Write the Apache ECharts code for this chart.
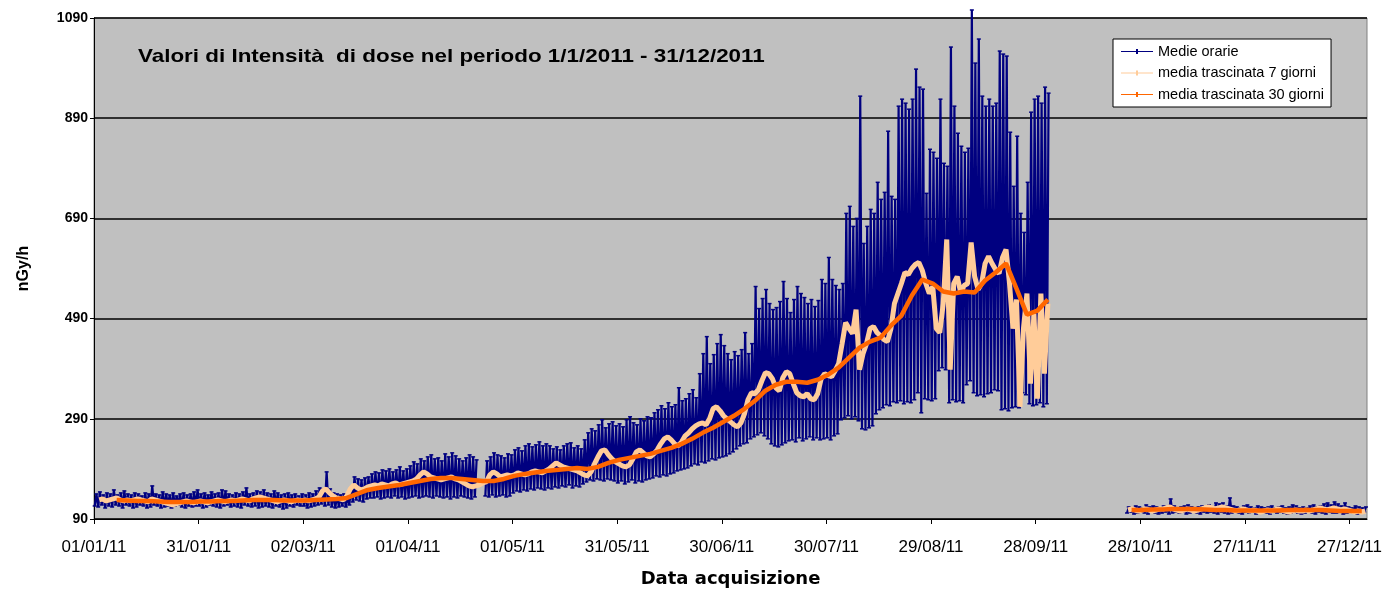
<!DOCTYPE html>
<html>
<head>
<meta charset="utf-8">
<script src="https://cdn.jsdelivr.net/npm/echarts@6/dist/echarts.min.js"></script>
<style>
  html, body { margin: 0; padding: 0; background: #ffffff; }
  #chart { width: 1397px; height: 594px; }
</style>
</head>
<body>
<div id="chart"></div>
<script>
// Dose-rate series for 2011, indexed by day of year (0 = 1 Jan 2011).
const startDateUTC = Date.UTC(2011, 0, 1);
const xTickStepDays = 30;
const yTickValues = [90, 290, 490, 690, 890, 1090];
const seriesNames = ['Medie orarie', 'media trascinata 7 giorni', 'media trascinata 30 giorni'];
const chartTitle = 'Valori di Intensità  di dose nel periodo 1/1/2011 - 31/12/2011';
const xAxisTitle = 'Data acquisizione';
const yAxisTitle = 'nGy/h';

// Hourly averages: daily maximum and minimum of the hourly values (nGy/h), null = no data.
const hourlyHigh = [
  140,144,138,142,140,148,138,142,146,140,
  138,142,140,136,142,140,156,140,138,144,
  140,138,142,136,140,142,138,140,144,148,
  140,142,138,144,140,142,148,146,140,138,
  142,140,144,152,140,142,146,144,148,142,
  140,146,142,138,140,142,138,140,136,140,
  138,142,140,146,152,150,184,150,142,140,
  138,140,136,152,174,170,168,172,174,180,
  184,182,188,186,190,184,188,194,186,190,
  196,204,200,210,206,214,218,210,212,206,
  220,214,222,216,210,206,212,218,214,208,
  null,null,206,214,222,218,216,212,220,218,
  228,232,226,236,240,234,238,244,236,240,
  236,230,234,228,236,240,242,232,236,230,
  248,262,270,266,278,288,272,280,284,276,
  280,274,288,294,282,278,290,286,294,292,
  302,308,316,310,322,314,318,352,326,330,
  340,348,332,380,420,454,400,418,440,458,
  436,420,408,424,416,428,462,420,440,554,
  510,530,548,520,508,512,524,564,530,502,
  528,554,540,532,520,528,514,526,568,560,
  612,568,556,548,560,700,714,674,690,934,
  640,674,708,700,762,728,742,864,734,728,
  914,928,920,908,928,988,952,948,740,828,
  822,810,928,800,794,1032,914,860,834,822,
  830,1106,1000,1048,934,914,928,914,920,1024,
  1018,1014,862,754,854,700,662,762,902,928,
  934,920,952,940,
  null,null,null,null,null,null,null,null,null,null,null,
  null,null,null,null,null,null,null,null,null,null,null,
  114,112,116,114,112,118,114,116,114,112,
  116,114,130,116,112,114,116,118,114,112,
  114,116,112,118,114,122,120,122,116,132,
  116,114,112,116,118,114,112,116,114,112,
  114,116,112,114,116,112,114,118,116,112,
  114,112,116,118,114,116,120,122,118,124,
  120,116,122,114,112,116,114,112,114
];
const hourlyLow = [
  116,114,118,112,116,114,118,116,112,118,
  116,112,114,118,116,112,114,118,116,112,
  114,116,112,116,118,114,112,116,114,116,
  116,112,114,118,116,114,112,116,118,114,
  116,114,112,118,116,114,116,112,114,116,
  114,112,116,114,110,112,116,114,118,116,
  116,112,114,116,118,120,116,118,114,112,
  114,116,114,118,124,128,126,124,130,132,
  132,134,130,132,134,132,136,132,134,130,
  132,134,136,132,134,136,134,132,136,134,
  132,134,130,134,132,136,134,132,130,134,
  null,null,136,134,138,134,136,138,134,136,
  142,146,144,148,146,150,148,152,150,148,
  152,150,154,152,156,154,158,152,156,154,
  160,164,168,166,170,168,166,170,168,166,
  162,166,160,164,168,162,166,164,168,170,
  172,176,174,178,176,180,182,186,188,190,
  192,196,200,198,204,202,206,210,208,212,
  214,216,220,224,230,236,240,242,250,254,
  258,262,256,250,240,236,234,238,242,246,
  248,244,252,246,250,254,248,252,248,250,
  252,248,256,260,288,292,296,290,294,286,
  270,268,272,276,300,308,312,318,316,324,
  322,326,320,324,322,328,342,302,330,328,
  326,330,386,392,388,322,328,324,326,322,
  358,366,342,336,338,334,340,342,348,346,
  308,310,306,312,314,312,342,338,320,316,
  318,322,314,320,
  null,null,null,null,null,null,null,null,null,null,null,
  null,null,null,null,null,null,null,null,null,null,null,
  102,104,100,102,104,102,100,104,102,100,
  102,104,100,102,104,102,104,100,102,104,
  102,100,104,102,104,102,100,104,102,100,
  102,104,102,100,104,102,104,100,102,104,
  102,100,104,102,104,102,100,102,104,102,
  100,102,104,102,100,104,102,100,104,102,
  102,104,100,102,104,102,100,102,104
];

// 7-day moving average, one value per day.
const movingAvg7 = [
  null,128,130,126,128,130,132,128,126,128,
  126,128,130,128,126,124,130,128,126,124,
  122,120,118,120,122,124,126,124,122,124,
  126,124,122,124,126,128,126,124,126,128,
  126,128,130,128,126,130,132,134,132,130,
  128,126,124,126,128,126,124,126,128,126,
  128,126,128,130,134,146,150,142,136,132,
  130,128,136,150,158,152,148,150,154,156,
  158,156,160,158,156,160,162,158,160,162,
  164,166,170,178,184,180,174,172,170,168,
  170,172,174,170,168,164,160,156,154,156,
  158,162,164,178,184,180,174,176,178,176,
  178,182,180,178,180,184,186,184,182,186,
  190,196,202,198,194,192,190,188,186,182,
  178,176,184,200,214,226,228,218,210,204,
  200,196,194,198,210,224,228,222,216,214,
  220,228,240,250,254,248,240,236,244,256,
  262,270,276,280,282,278,290,310,314,306,
  296,290,284,278,274,282,300,328,342,340,
  348,366,382,380,370,352,346,372,384,380,
  360,342,336,334,340,330,328,340,370,380,
  376,374,386,400,440,482,470,460,508,388,
  420,440,470,474,462,456,448,444,470,520,
  540,560,582,578,590,598,602,586,560,540,
  554,470,462,520,648,388,560,574,542,556,
  560,642,574,548,560,600,614,600,588,580,
  612,628,560,470,528,314,470,540,360,500,
  330,540,380,520,
  null,null,null,null,null,null,null,null,null,null,null,
  null,null,null,null,null,null,null,null,null,null,null,
  108,110,108,106,108,110,108,106,108,110,
  110,112,114,110,108,106,108,110,108,106,
  108,110,112,114,112,110,112,114,112,110,
  108,106,108,110,108,106,108,106,104,106,
  108,106,108,110,108,106,104,106,108,106,
  106,108,106,108,110,112,110,108,110,112,
  110,108,110,108,106,104,106,104,106
];

// 30-day moving average, one value every 3 days.
const movingAvg30StepDays = 3;
const movingAvg30 = [
  null,null,
  128,127,126,126,125,124,124,124,125,125,
  126,126,127,128,128,128,127,127,127,128,
  129,130,132,140,148,152,155,158,162,166,
  170,172,172,170,168,166,166,170,176,180,
  183,186,188,190,192,190,194,202,208,212,
  216,220,226,232,240,250,262,272,284,296,
  310,326,346,358,364,364,362,368,378,392,
  412,432,444,452,476,496,536,568,560,544,
  540,544,542,566,582,600,550,498,506,528,
  null,null,null,null,null,null,null,
  108,108,109,109,110,110,110,109,108,108,
  107,107,107,107,107,108,108,108,108,107,
  106,106,106
];

const DAY_MS = 86400000;
function pad2(n) { return (n < 10 ? '0' : '') + n; }
function dayLabel(d) {
  const t = new Date(startDateUTC + d * DAY_MS);
  return pad2(t.getUTCDate()) + '/' + pad2(t.getUTCMonth() + 1) + '/' + pad2(t.getUTCFullYear() % 100);
}

// Two samples per day (low then high) give the dense hourly band.
const hourlyData = [];
for (let d = 0; d < hourlyHigh.length; d++) {
  hourlyData.push([d + 0.2, hourlyLow[d]]);
  hourlyData.push([d + 0.7, hourlyHigh[d]]);
}
const avg7Data = movingAvg7.map((v, d) => [d + 0.5, v]);
const avg30Data = movingAvg30.map((v, i) => [i * movingAvg30StepDays + 0.5, v]);

const FONT = "'Liberation Sans', Arial, sans-serif";
// Legend key: a short line with a small cross-bar marker.
const KEY_ICON = 'path://M0,3.4 L32,3.4 L32,4.6 L0,4.6 Z M15,1.5 L17,1.5 L17,6.5 L15,6.5 Z';

const chart = echarts.init(document.getElementById('chart'), null, { renderer: 'canvas' });

chart.setOption({
  animation: false,
  backgroundColor: '#ffffff',
  graphic: [
    {
      type: 'text',
      left: 138,
      top: 47,
      scaleX: 1.18,
      originX: 0,
      style: {
        text: chartTitle,
        font: "bold 19px 'Liberation Sans', Arial, sans-serif",
        fill: '#000000'
      },
      z: 10
    }
  ],
  legend: {
    data: seriesNames.map(n => ({ name: n, icon: KEY_ICON })),
    orient: 'vertical',
    left: 1113,
    top: 39,
    itemWidth: 32,
    itemHeight: 8,
    itemGap: 6.5,
    padding: [5, 7, 5, 8],
    backgroundColor: '#ffffff',
    borderColor: '#000000',
    borderWidth: 1,
    textStyle: { fontFamily: FONT, fontSize: 14.5, lineHeight: 14, color: '#000000' }
  },
  grid: {
    left: 94,
    top: 18,
    width: 1273,
    height: 501,
    show: true,
    backgroundColor: '#c0c0c0',
    borderColor: '#808080',
    borderWidth: 1
  },
  xAxis: {
    type: 'value',
    min: 0,
    max: 365,
    interval: xTickStepDays,
    name: xAxisTitle,
    nameLocation: 'middle',
    nameGap: 51,
    nameTextStyle: { fontFamily: "'DejaVu Sans', sans-serif", fontSize: 18, fontWeight: 'bold', color: '#000000' },
    axisLine: { show: true, lineStyle: { color: '#000000', width: 1 } },
    axisTick: { show: true, length: 5, lineStyle: { color: '#000000' } },
    axisLabel: {
      margin: 20,
      fontFamily: FONT,
      fontSize: 17,
      color: '#000000',
      showMaxLabel: false,
      formatter: v => (v % xTickStepDays === 0 ? dayLabel(v) : '')
    },
    splitLine: { show: false }
  },
  yAxis: {
    type: 'value',
    min: yTickValues[0],
    max: yTickValues[yTickValues.length - 1],
    interval: yTickValues[1] - yTickValues[0],
    name: yAxisTitle,
    nameLocation: 'middle',
    nameRotate: 90,
    nameGap: 62,
    nameTextStyle: { fontFamily: FONT, fontSize: 16, fontWeight: 'bold', color: '#000000' },
    axisLine: { show: true, lineStyle: { color: '#000000', width: 1 } },
    axisTick: { show: true, length: 4, lineStyle: { color: '#000000' } },
    axisLabel: {
      margin: 6,
      fontFamily: FONT,
      fontSize: 14,
      fontWeight: 'bold',
      color: '#000000',
      formatter: v => String(v)
    },
    splitLine: { show: true, lineStyle: { color: '#000000', width: 1.5 } }
  },
  series: [
    {
      name: seriesNames[0],
      type: 'line',
      data: hourlyData,
      clip: false,
      connectNulls: false,
      showAllSymbol: true,
      symbol: 'rect',
      symbolSize: [4, 1.5],
      lineStyle: { color: '#000080', width: 2.2 },
      itemStyle: { color: '#000080' },
      emphasis: { disabled: true },
      z: 2
    },
    {
      name: seriesNames[1],
      type: 'line',
      data: avg7Data,
      connectNulls: false,
      showSymbol: false,
      lineStyle: { color: '#ffcc99', width: 5 },
      itemStyle: { color: '#ffcc99' },
      emphasis: { disabled: true },
      z: 3
    },
    {
      name: seriesNames[2],
      type: 'line',
      data: avg30Data,
      connectNulls: false,
      showSymbol: false,
      lineStyle: { color: '#ff6600', width: 4.5 },
      itemStyle: { color: '#ff6600' },
      emphasis: { disabled: true },
      z: 4
    }
  ]
});
</script>
</body>
</html>
